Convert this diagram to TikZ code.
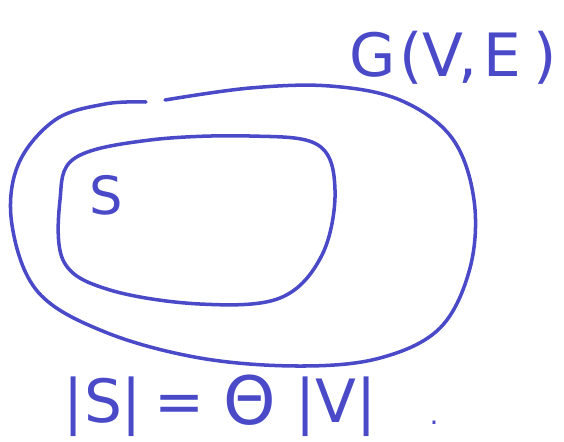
\documentclass[tikz,border=0pt]{standalone}
\usepackage{fontspec}
\setmainfont{DejaVu Sans}
\definecolor{ink}{HTML}{4A4AC8}
\begin{document}
\begin{tikzpicture}[x=0.02cm,y=-0.02cm,
  pen/.style={draw=ink,line width=2pt,line cap=round,line join=round},
  lbl/.style={text=ink,inner sep=0pt,anchor=base},
  big/.style={font=\fontsize{34}{34}\selectfont}]
\useasboundingbox (0,0) rectangle (564,441);
% outer set G
\draw[pen] plot[smooth,tension=0.6] coordinates {(165,100) (250,88) (330,86) (400,100) (452,138) (474,200) (470,268) (440,328) (380,358) (300,366) (200,358) (105,332) (38,292) (12,225) (18,165) (55,120) (105,104) (146,102)};
% inner set S
\draw[pen] plot[smooth cycle,tension=0.6] coordinates {(75,158) (150,140) (250,136) (318,145) (335,190) (322,255) (280,298) (200,304) (110,290) (64,262) (60,200)};
% label G(V,E)
\node[lbl,big] (g1) at (373,76) {G};
\node[lbl,big] (g2) at (411,76) {(};
\node[lbl,big] (g3) at (443,76) {V};
\node[lbl,big] (g4) at (468,76) {,};
\node[lbl,big] (g5) at (502,76) {E};
\node[lbl,big] (g6) at (545,76) {)};
% S
\node[lbl,font=\fontsize{30}{30}\selectfont] (s) at (106,214) {S};
% equation
\node[lbl,big] (e1) at (103,422) {|S|};
\node[lbl,big] (e2) at (180,422) {=};
\node[lbl,font=\fontsize{38}{38}\selectfont] (e3) at (250,424) {Θ};
\node[lbl,big] (e4) at (336,422) {|V|};
\node[lbl,font=\fontsize{16}{16}\selectfont] (e5) at (434,424) {.};
\end{tikzpicture}
\end{document}
